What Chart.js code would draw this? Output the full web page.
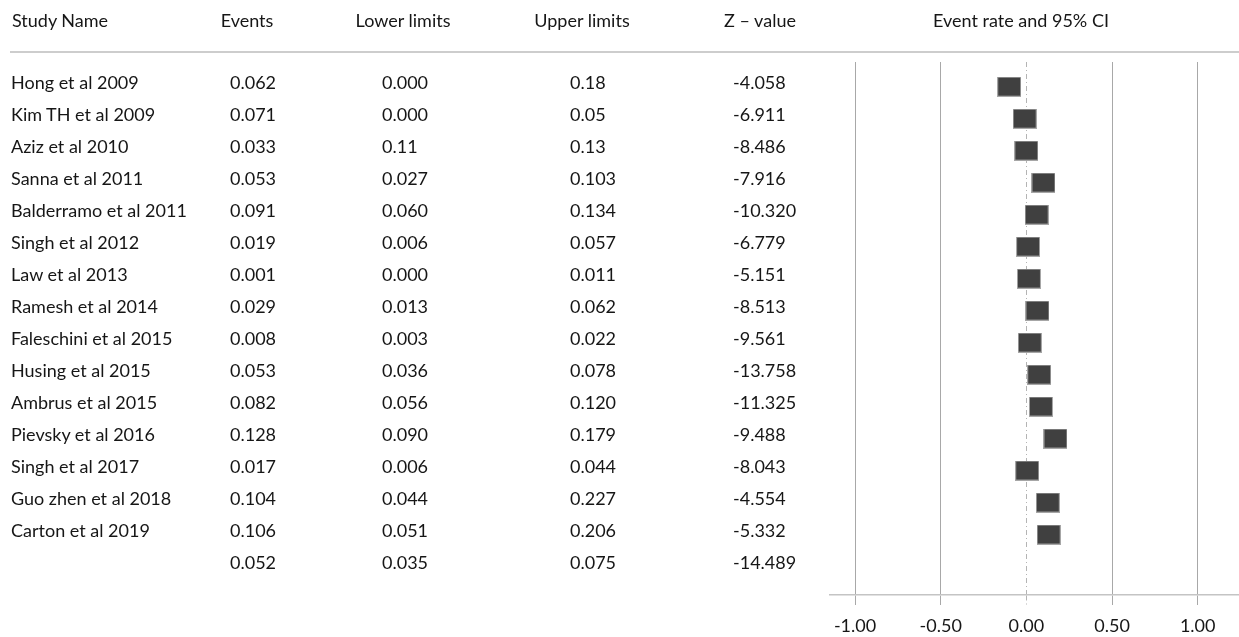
<!DOCTYPE html>
<html>
<head>
<meta charset="utf-8">
<title>Event rate and 95% CI</title>
<script src="https://cdn.jsdelivr.net/npm/chart.js@4.4.1/dist/chart.umd.min.js"></script>
<style>
    html, body { margin: 0; padding: 0; background: #fff; }
    body {
        width: 1239px; height: 637px; position: relative; overflow: hidden;
        font-family: Lato, "Open Sans", sans-serif; font-size: 18px; color: #161616;
    }
    #forestChart { position: absolute; left: 0; top: 0; }
    .cell { position: absolute; white-space: nowrap; line-height: 22px; transform: translateY(-50%); }
    .center { transform: translate(-50%, -50%); }
    .head-line { position: absolute; left: 10px; right: 0; top: 51px; border-top: 2px solid #cdcdcd; }
</style>
</head>
<body>
<canvas id="forestChart" width="1239" height="637"></canvas>
<div class="head-line"></div>
<div id="table"></div>
<script>
const studies = [
    "Hong et al 2009", "Kim TH et al 2009", "Aziz et al 2010", "Sanna et al 2011",
    "Balderramo et al 2011", "Singh et al 2012", "Law et al 2013", "Ramesh et al 2014",
    "Faleschini et al 2015", "Husing et al 2015", "Ambrus et al 2015", "Pievsky et al 2016",
    "Singh et al 2017", "Guo zhen et al 2018", "Carton et al 2019", ""
];
const events = ["0.062", "0.071", "0.033", "0.053", "0.091", "0.019", "0.001", "0.029",
    "0.008", "0.053", "0.082", "0.128", "0.017", "0.104", "0.106", "0.052"];
const lowerLimits = ["0.000", "0.000", "0.11", "0.027", "0.060", "0.006", "0.000", "0.013",
    "0.003", "0.036", "0.056", "0.090", "0.006", "0.044", "0.051", "0.035"];
const upperLimits = ["0.18", "0.05", "0.13", "0.103", "0.134", "0.057", "0.011", "0.062",
    "0.022", "0.078", "0.120", "0.179", "0.044", "0.227", "0.206", "0.075"];
const zValues = ["-4.058", "-6.911", "-8.486", "-7.916", "-10.320", "-6.779", "-5.151", "-8.513",
    "-9.561", "-13.758", "-11.325", "-9.488", "-8.043", "-4.554", "-5.332", "-14.489"];

// box centres as drawn on the plot (one per study, summary row has none)
const rateCentre = [-0.10, -0.01, 0.00, 0.10, 0.06, 0.01, 0.015, 0.065,
    0.02, 0.075, 0.085, 0.17, 0.005, 0.125, 0.13];
const axisTicks = [-1, -0.5, 0, 0.5, 1];

const headers = [
    { text: "Study Name", x: 12, center: false },
    { text: "Events", x: 247, center: true },
    { text: "Lower limits", x: 403, center: true },
    { text: "Upper limits", x: 582, center: true },
    { text: "Z \u2013 value", x: 760, center: true },
    { text: "Event rate and 95% CI", x: 1021, center: true }
];
const columns = [
    { values: studies, x: 11 },
    { values: events, x: 230 },
    { values: lowerLimits, x: 382 },
    { values: upperLimits, x: 570 },
    { values: zValues, x: 733 }
];

function makeBox() {
    const c = document.createElement("canvas");
    c.width = 24;
    c.height = 20;
    const g = c.getContext("2d");
    g.fillStyle = "#a6a6a6";
    g.fillRect(0, 0, 24, 20);
    g.fillStyle = "#404040";
    g.fillRect(1, 1, 22, 18);
    return c;
}

const forestChart = new Chart(document.getElementById("forestChart"), {
    type: "scatter",
    data: {
        datasets: [{
            data: rateCentre.map((v, i) => ({ x: v, y: i })),
            pointStyle: makeBox(),
            pointRadius: 12
        }]
    },
    options: {
        responsive: false,
        animation: false,
        events: [],
        layout: { autoPadding: false, padding: { left: 830, right: 0, top: 62, bottom: 0 } },
        plugins: { legend: { display: false }, tooltip: { enabled: false } },
        scales: {
            x: {
                type: "linear",
                min: -1.146,
                max: 1.241,
                afterBuildTicks: function (scale) {
                    scale.ticks = axisTicks.map(v => ({ value: v }));
                },
                afterFit: function (scale) {
                    scale.height = 42;
                    scale.paddingLeft = 0;
                    scale.paddingRight = 0;
                },
                grid: {
                    color: ctx => (ctx.tick && ctx.tick.value === 0) ? "#b4b4b4" : "#a8a8a8",
                    lineWidth: 1,
                    tickLength: 10,
                    tickBorderDash: ctx => (ctx.tick && ctx.tick.value === 0) ? [5, 3, 1, 3] : []
                },
                border: {
                    color: "#c4c4c4",
                    width: 1.5,
                    dash: ctx => (ctx.tick && ctx.tick.value === 0) ? [5, 3, 1, 3] : []
                },
                ticks: {
                    padding: 10,
                    color: "#161616",
                    font: { family: "Lato", size: 18 },
                    callback: v => Number(v).toFixed(2)
                }
            },
            y: {
                type: "linear",
                display: false,
                reverse: true,
                min: -0.77,
                max: 15.89
            }
        }
    }
});

const table = document.getElementById("table");

headers.forEach(h => {
    const d = document.createElement("div");
    d.className = h.center ? "cell center" : "cell";
    d.style.left = h.x + "px";
    d.style.top = "20px";
    d.textContent = h.text;
    table.appendChild(d);
});

const yScale = forestChart.scales.y;
columns.forEach(col => {
    col.values.forEach((val, i) => {
        if (!val) return;
        const d = document.createElement("div");
        d.className = "cell";
        d.style.left = col.x + "px";
        d.style.top = (yScale.getPixelForValue(i) - 5) + "px";
        d.textContent = val;
        table.appendChild(d);
    });
});
</script>
</body>
</html>
